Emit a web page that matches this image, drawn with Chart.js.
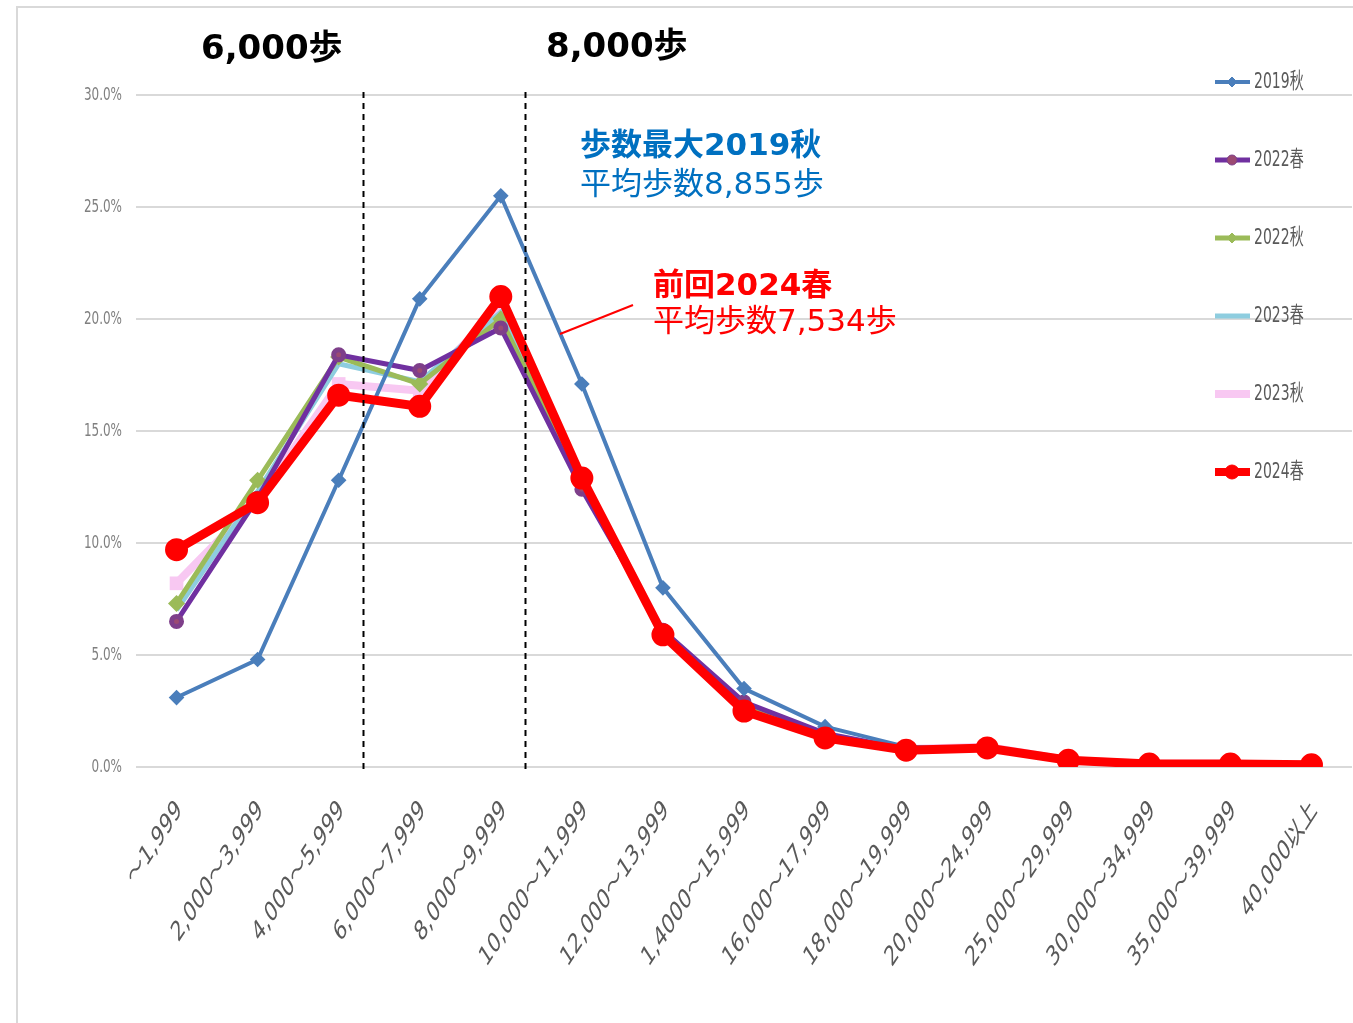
<!DOCTYPE html>
<html>
<head>
<meta charset="utf-8">
<script src="https://cdn.jsdelivr.net/npm/chart.js@4"></script>
<style>
  html, body { margin: 0; background: #fff; overflow: hidden; }
  canvas { display: block; }
</style>
</head>
<body>
<canvas id="stepChart" width="1353" height="1023"></canvas>
<script>
// categories (steps per day)
const stepBands = ['～1,999', '2,000～3,999', '4,000～5,999', '6,000～7,999', '8,000～9,999',
  '10,000～11,999', '12,000～13,999', '1,4000～15,999', '16,000～17,999', '18,000～19,999',
  '20,000～24,999', '25,000～29,999', '30,000～34,999', '35,000～39,999', '40,000以上'];

// share of people (%) per band
const autumn2019 = [3.1, 4.8, 12.8, 20.9, 25.5, 17.1, 8.0, 3.5, 1.8, 0.9, 0.8, 0.3, 0.15, 0.15, 0.1];
const spring2022 = [6.5, 12.0, 18.4, 17.7, 19.6, 12.4, 6.1, 2.9, 1.5, 0.8, 0.8, 0.3, 0.15, 0.15, 0.1];
const autumn2022 = [7.3, 12.8, 18.3, 17.1, 20.0, 12.6, 6.0, 2.8, 1.4, 0.8, 0.8, 0.3, 0.15, 0.15, 0.1];
const spring2023 = [7.0, 12.3, 18.0, 17.2, 20.3, 12.7, 6.1, 2.7, 1.4, 0.8, 0.9, 0.3, 0.15, 0.15, 0.1];
const autumn2023 = [8.2, 11.9, 17.1, 16.8, 20.6, 12.8, 6.0, 2.6, 1.4, 0.8, 0.9, 0.3, 0.15, 0.15, 0.1];
const spring2024 = [9.7, 11.8, 16.6, 16.1, 21.0, 12.9, 5.9, 2.5, 1.3, 0.75, 0.85, 0.3, 0.13, 0.13, 0.1];

const seriesNames = ['2019秋', '2022春', '2022秋', '2023春', '2023秋', '2024春'];
const yTicks = [0, 5, 10, 15, 20, 25, 30];
// reference lines sit between categories (6,000 and 8,000 steps)
const refLines = [2.3, 4.3];
const refLineTitles = ['6,000歩', '8,000歩'];

// the original picture is stretched vertically, so its text looks tall and narrow
const SY = 1.54;
const latinCjk = '"DejaVu Sans", "Noto Sans CJK JP", sans-serif';

function tallText(ctx, text, x, y, angle, align) {
  ctx.save();
  ctx.translate(x, y);
  ctx.scale(1, SY);
  ctx.rotate(-angle * Math.PI / 180);
  ctx.textAlign = align;
  ctx.textBaseline = 'middle';
  ctx.fillText(text, 0, 0);
  ctx.restore();
}

function marker(ctx, style, x, y, r, fill, stroke) {
  ctx.save();
  ctx.fillStyle = fill;
  ctx.strokeStyle = stroke;
  ctx.lineWidth = 1;
  ctx.beginPath();
  if (style === 'rectRot') {
    ctx.moveTo(x, y - r); ctx.lineTo(x + r, y); ctx.lineTo(x, y + r); ctx.lineTo(x - r, y);
    ctx.closePath();
  } else if (style === 'rect') {
    ctx.rect(x - r, y - r * 0.7, 2 * r, 1.4 * r);
  } else {
    ctx.arc(x, y, r, 0, Math.PI * 2);
  }
  ctx.fill();
  ctx.stroke();
  ctx.restore();
}

const overlay = {
  id: 'overlay',
  beforeDraw(chart) {
    const ctx = chart.ctx;
    ctx.save();
    ctx.strokeStyle = '#D9D9D9';
    ctx.lineWidth = 2;
    ctx.beginPath();
    ctx.moveTo(17, 1023); ctx.lineTo(17, 7); ctx.lineTo(1353, 7);
    ctx.stroke();
    ctx.restore();
  },
  afterDraw(chart) {
    const ctx = chart.ctx;
    const xs = chart.scales.x, ys = chart.scales.y;

    // y tick labels
    ctx.save();
    ctx.fillStyle = '#7F7F7F';
    ctx.font = '12px ' + latinCjk;
    ys.ticks.forEach(t => {
      tallText(ctx, t.value.toFixed(1) + '%', 122, ys.getPixelForValue(t.value), 0, 'right');
    });
    // x tick labels
    ctx.fillStyle = '#595959';
    ctx.font = '18px ' + latinCjk;
    chart.data.labels.forEach((lab, i) => {
      tallText(ctx, lab, xs.getPixelForValue(i) + 3, 806, 45, 'right');
    });
    ctx.restore();

    // dashed reference lines + their titles
    ctx.save();
    ctx.strokeStyle = '#000';
    ctx.lineWidth = 2;
    ctx.setLineDash([6, 5]);
    refLines.forEach(v => {
      const x = Math.round(xs.getPixelForValue(v)) + 0.5;
      ctx.beginPath();
      ctx.moveTo(x, 92);
      ctx.lineTo(x, 771);
      ctx.stroke();
    });
    ctx.setLineDash([]);
    ctx.fillStyle = '#000';
    ctx.font = 'bold 34px ' + latinCjk;
    ctx.textBaseline = 'middle';
    ctx.textAlign = 'left';
    ctx.fillText(refLineTitles[0], 201, 50);
    ctx.fillText(refLineTitles[1], 546, 48);

    // callouts
    ctx.fillStyle = '#0070C0';
    ctx.font = 'bold 31px ' + latinCjk;
    ctx.fillText('歩数最大2019秋', 580, 147);
    ctx.font = '31px ' + latinCjk;
    ctx.fillText('平均歩数8,855歩', 580, 186);
    ctx.fillStyle = '#FF0000';
    ctx.font = 'bold 31px ' + latinCjk;
    ctx.fillText('前回2024春', 653, 287);
    ctx.font = '31px ' + latinCjk;
    ctx.fillText('平均歩数7,534歩', 653, 323);
    ctx.strokeStyle = '#FF0000';
    ctx.lineWidth = 2;
    ctx.beginPath();
    ctx.moveTo(560, 334);
    ctx.lineTo(633, 305);
    ctx.stroke();
    ctx.restore();

    // legend (sits inside the plot, on the right)
    ctx.save();
    chart.data.datasets.forEach((ds, i) => {
      const y = 82 + i * 78;
      ctx.strokeStyle = ds.borderColor;
      ctx.lineWidth = Math.min(ds.borderWidth, 8);
      ctx.beginPath();
      ctx.moveTo(1215, y);
      ctx.lineTo(1250, y);
      ctx.stroke();
      if (ds.legendMarker) {
        marker(ctx, ds.pointStyle, 1232, y, ds.legendMarker, ds.pointBackgroundColor, ds.pointBorderColor);
      }
      ctx.fillStyle = '#595959';
      ctx.font = '14px ' + latinCjk;
      tallText(ctx, ds.label, 1254, y, 0, 'left');
    });
    ctx.restore();
  }
};

const datasets = [
  { label: seriesNames[0], data: autumn2019, borderColor: '#4A7EBB', borderWidth: 4,
    pointStyle: 'rectRot', pointRadius: 5, pointBackgroundColor: '#4A7EBB', pointBorderColor: '#4A7EBB',
    legendMarker: 5, order: 1 },
  { label: seriesNames[1], data: spring2022, borderColor: '#7030A0', borderWidth: 5,
    pointStyle: 'circle', pointRadius: 5, pointBackgroundColor: '#9B4A72', pointBorderColor: '#7E3F8A',
    legendMarker: 5, order: 2 },
  { label: seriesNames[2], data: autumn2022, borderColor: '#9BBB59', borderWidth: 5,
    pointStyle: 'rectRot', pointRadius: 5, pointBackgroundColor: '#9BBB59', pointBorderColor: '#9BBB59',
    legendMarker: 5, order: 3 },
  { label: seriesNames[3], data: spring2023, borderColor: '#8ECDDF', borderWidth: 5,
    pointRadius: 0, pointBackgroundColor: '#8ECDDF', pointBorderColor: '#8ECDDF',
    legendMarker: 0, order: 4 },
  { label: seriesNames[4], data: autumn2023, borderColor: '#F8C8F2', borderWidth: 8,
    pointStyle: 'rect', pointRadius: 4, pointBackgroundColor: '#F8C8F2', pointBorderColor: '#F8C8F2',
    legendMarker: 5, order: 5 },
  { label: seriesNames[5], data: spring2024, borderColor: '#FF0000', borderWidth: 9,
    pointStyle: 'circle', pointRadius: 7, pointBackgroundColor: '#FF0000', pointBorderColor: '#FF0000',
    legendMarker: 7, order: 0 }
];

new Chart(document.getElementById('stepChart'), {
  type: 'line',
  data: { labels: stepBands, datasets: datasets },
  options: {
    responsive: false,
    animation: false,
    layout: { autoPadding: false, padding: { top: 95, right: 1, left: 0, bottom: 0 } },
    plugins: { legend: { display: false }, tooltip: { enabled: false } },
    elements: { line: { tension: 0 } },
    scales: {
      x: {
        offset: true,
        grid: { display: false },
        border: { display: false },
        ticks: { display: false },
        afterFit: s => {
          s.height = 1023 - 767;
          s.paddingLeft = 0;
          s.paddingRight = 0;
        }
      },
      y: {
        min: 0,
        max: 30,
        afterBuildTicks: s => { s.ticks = yTicks.map(v => ({ value: v })); },
        grid: { color: '#D9D9D9', lineWidth: 2, drawTicks: false },
        border: { display: false },
        ticks: { display: false },
        afterFit: s => {
          s.width = 136;
          s.paddingTop = 0;
          s.paddingBottom = 0;
        }
      }
    }
  },
  plugins: [overlay]
});
</script>
</body>
</html>
